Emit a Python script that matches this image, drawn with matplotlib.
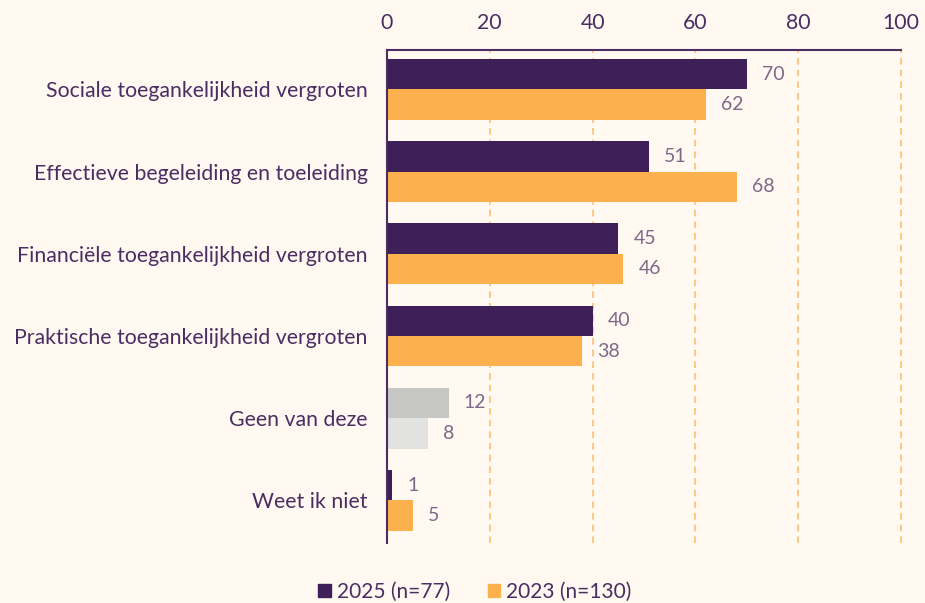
import matplotlib
matplotlib.use("Agg")
import matplotlib.pyplot as plt
from matplotlib.patches import Patch
import numpy as np

categories = [
    "Sociale toegankelijkheid vergroten",
    "Effectieve begeleiding en toeleiding",
    "Financiële toegankelijkheid vergroten",
    "Praktische toegankelijkheid vergroten",
    "Geen van deze",
    "Weet ik niet",
]
values_2025 = [70, 51, 45, 40, 12, 1]
values_2023 = [62, 68, 46, 38, 8, 5]
series_labels = ["2025 (n=77)", "2023 (n=130)"]
xticks = [0, 20, 40, 60, 80, 100]

BG = "#FFF9F2"
PURPLE = "#3E1F57"
ORANGE = "#FDB14E"
GREY1 = "#C6C6C4"
GREY2 = "#E2E2E0"
TEXT = "#4A2D62"
VAL = "#7B6B88"

plt.rcParams["font.family"] = ["Lato", "DejaVu Sans"]

fig = plt.figure(figsize=(9.25, 6.03), dpi=100, facecolor=BG)
ax = fig.add_axes([387/925, 1-543/603, (901-387)/925, (543-50)/603], facecolor=BG)

y = np.arange(len(categories))
h = 0.37
c25 = [PURPLE]*len(categories)
c23 = [ORANGE]*len(categories)
c25[4] = GREY1
c23[4] = GREY2

ax.barh(y - h/2, values_2025, height=h, color=c25, zorder=3)
ax.barh(y + h/2, values_2023, height=h, color=c23, zorder=3)

for yi, v in zip(y, values_2025):
    ax.annotate(str(v), (v, yi - h/2), xytext=(11, 0), textcoords="offset points",
                va="center", ha="left", fontsize=14, color=VAL)
for yi, v in zip(y, values_2023):
    ax.annotate(str(v), (v, yi + h/2), xytext=(11, 0), textcoords="offset points",
                va="center", ha="left", fontsize=14, color=VAL)

ax.set_xlim(0, 100)
ax.set_ylim(len(categories) - 0.5 + 0.02, -0.5 + 0.02)
ax.set_yticks(y)
ax.set_yticklabels(categories, fontsize=15.3, color=TEXT)
ax.set_xticks(xticks)
ax.set_xticklabels([str(t) for t in xticks], fontsize=15.3, color=TEXT)
ax.xaxis.tick_top()
ax.tick_params(axis="y", length=0, pad=14)
ax.tick_params(axis="x", length=0, pad=12)

for t in xticks[1:]:
    ax.axvline(t, color=ORANGE, linestyle=(0, (4, 3)), linewidth=1.2, alpha=0.8,
               zorder=1, clip_on=False)

for s in ["right", "bottom"]:
    ax.spines[s].set_visible(False)
for s in ["left", "top"]:
    ax.spines[s].set_color(TEXT)
    ax.spines[s].set_linewidth(1.5)
    ax.spines[s].set_zorder(4)

handles = [Patch(color=PURPLE), Patch(color=ORANGE)]
fig.legend(handles, series_labels, loc="center", bbox_to_anchor=(475/925, 1-592/603),
           ncol=2, frameon=False, fontsize=15, labelcolor=TEXT,
           handlelength=0.6, handleheight=0.6, handletextpad=0.3, columnspacing=1.8)

fig.savefig("out.png", dpi=100, facecolor=BG)
